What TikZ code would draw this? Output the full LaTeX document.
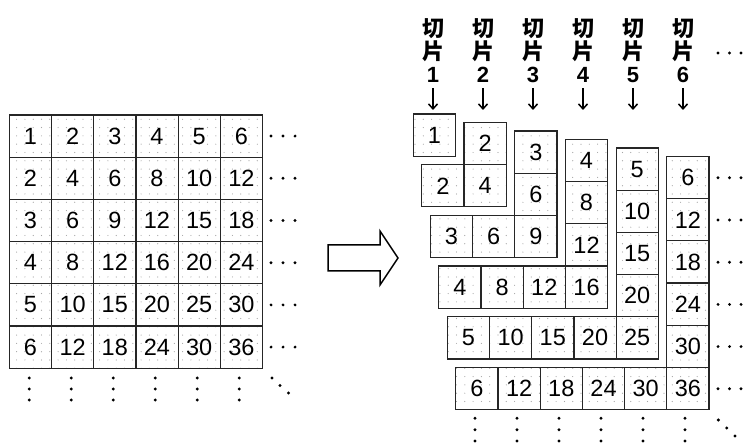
\documentclass[tikz,border=0pt]{standalone}
\usepackage{fontspec}
\setmainfont{Liberation Sans}
\newfontfamily\cjk{Noto Sans CJK SC}
\usetikzlibrary{patterns.meta,arrows.meta}
\tikzset{
  cell/.style={draw=black!85, line width=1.2pt, minimum size=42.2pt, inner sep=0pt,
    pattern={Dots[radius=0.6pt,distance=8.3pt]}, pattern color=black!35,
    font=\fontsize{23.5}{26}\selectfont},
  head/.style={align=center, inner sep=0pt, font=\fontsize{22}{23}\selectfont\bfseries},
  down/.style={line width=1.5pt, -{Straight Barb[length=5pt,width=9pt]}, shorten <=5pt},
  dot/.style={fill=black}
}
\begin{document}
\begin{tikzpicture}[x=1pt,y=-1pt]
\useasboundingbox (0,0) rectangle (747,443);
% table on the left
\foreach \i in {1,...,6}
  \foreach \j in {1,...,6} {
    \pgfmathtruncatemacro\val{\i*\j}
    \node[cell] (g\i-\j) at ({9.3+42.2*(\j-0.5)},{115+42.2*(\i-0.5)}) {\val};
  }
\foreach \i in {1,...,6}
  \foreach \x in {271,283,295}
    \fill[dot] (\x,{136.1+42.2*(\i-1)}) circle (1.6);
\foreach \j in {1,...,6}
  \foreach \y in {378,389,400}
    \fill[dot] ({29.3+42*(\j-1)},\y) circle (1.6);
\fill[dot] (272,378) circle (1.7) (280,385.5) circle (1.7) (288.5,393) circle (1.7);
% block arrow
\draw[line width=1.5pt, line join=miter] (328,245) -- (380,245) -- (380,231) -- (398,258)
  -- (380,285) -- (380,271) -- (328,271) -- cycle;
% slices
\foreach \k in {1,...,6} {
  \node[head] (h\k) at ({433+50*(\k-1)},51) {{\cjk 切}\\{\cjk 片}\\\k};
  \coordinate (t\k) at ({433+50*(\k-1)},110);
  \draw[down] (h\k.south) -- (t\k);
  \pgfmathsetmacro\ox{413.3+8.5*(\k-1)}
  \pgfmathsetmacro\oy{114+8.5*(\k-1)}
  \foreach \i in {1,...,\k} {
    \ifnum\i<\k
      \pgfmathtruncatemacro\val{\i*\k}
      \node[cell] (s\k-\i-\k) at ({\ox+42.2*(\k-0.5)},{\oy+42.2*(\i-0.5)}) {\val};
    \fi
  }
  \foreach \j in {1,...,\k} {
    \pgfmathtruncatemacro\val{\k*\j}
    \node[cell] (s\k-\k-\j) at ({\ox+42.2*(\j-0.5)},{\oy+42.2*(\k-0.5)}) {\val};
  }
}
\foreach \x in {718,729.5,741} {
  \fill[dot] (\x,53) circle (1.6);
  \foreach \i in {1,...,6}
    \fill[dot] (\x,{177.8+42.2*(\i-1)}) circle (1.6);
}
\foreach \j in {1,...,6}
  \foreach \y in {418.3,429.7,441}
    \fill[dot] ({475+42*(\j-1)},\y) circle (1.6);
\fill[dot] (718.3,420) circle (1.7) (726.7,428) circle (1.7) (735,436) circle (1.7);
\end{tikzpicture}
\end{document}
